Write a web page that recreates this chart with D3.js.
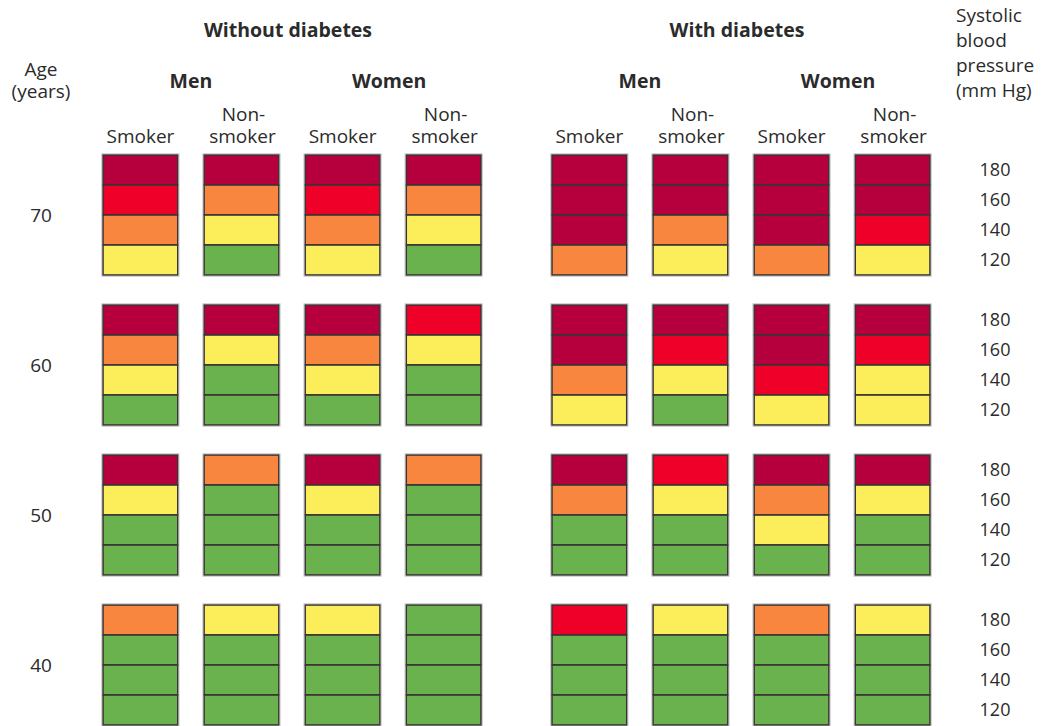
<!DOCTYPE html>
<html>
<head>
<meta charset="utf-8">
<script src="https://cdn.jsdelivr.net/npm/d3@7"></script>
<style>
  html, body { margin: 0; padding: 0; background: #fff; }
  svg { display: block; font-family: "Open Sans", "Noto Sans", sans-serif; }
</style>
</head>
<body>
<div id="chart"></div>
<script>
// Chart data
const ages = ["70", "60", "50", "40"];
const diabetesGroups = ["Without diabetes", "With diabetes"];
const sexes = ["Men", "Women"];
const smokingStatus = ["Smoker", "Non-smoker"];
const pressures = [180, 160, 140, 120];
const levelColors = ["#6ab24d", "#fcee5b", "#f9863f", "#ef0029", "#b5003d"];

// risk level per column (8 columns: without/with diabetes x men/women x smoker/non), top row = 180
const risk70 = [[4,3,2,1],[4,2,1,0],[4,3,2,1],[4,2,1,0],[4,4,4,2],[4,4,2,1],[4,4,4,2],[4,4,3,1]];
const risk60 = [[4,2,1,0],[4,1,0,0],[4,2,1,0],[3,1,0,0],[4,4,2,1],[4,3,1,0],[4,4,3,1],[4,3,1,1]];
const risk50 = [[4,1,0,0],[2,0,0,0],[4,1,0,0],[2,0,0,0],[4,2,0,0],[3,1,0,0],[4,2,1,0],[4,1,0,0]];
const risk40 = [[2,0,0,0],[1,0,0,0],[1,0,0,0],[0,0,0,0],[3,0,0,0],[1,0,0,0],[2,0,0,0],[1,0,0,0]];
const riskByAge = { "70": risk70, "60": risk60, "50": risk50, "40": risk40 };

const width = 1048;
const height = 726;

const svg = d3.select("#chart")
    .append("svg")
    .attr("width", width)
    .attr("height", height);

// Scales
const groupX = d3.scaleBand()
    .domain(diabetesGroups)
    .range([103, 930])
    .paddingInner(0.158);

const columns = [];
sexes.forEach(s => smokingStatus.forEach(k => columns.push(s + "|" + k)));

const colX = d3.scaleBand()
    .domain(columns)
    .range([0, groupX.bandwidth()])
    .paddingInner(0.26);

const ageY = d3.scaleBand()
    .domain(ages)
    .range([155, 725])
    .paddingInner(0.2);

const bpY = d3.scaleBand()
    .domain(pressures)
    .range([0, ageY.bandwidth()]);

const textColor = "#2b2b2b";

// Cells
ages.forEach(age => {
    const blocks = riskByAge[age];
    diabetesGroups.forEach((grp, gi) => {
        columns.forEach((col, ci) => {
            const levels = blocks[gi * 4 + ci];
            const x = groupX(grp) + colX(col);
            const g = svg.append("g")
                .attr("transform", `translate(${x},${ageY(age)})`);
            g.selectAll("rect.cell")
                .data(pressures)
                .enter().append("rect")
                .attr("class", "cell")
                .attr("x", 0)
                .attr("y", d => bpY(d))
                .attr("width", colX.bandwidth())
                .attr("height", bpY.bandwidth())
                .attr("fill", (d, i) => levelColors[levels[i]])
                .attr("stroke", "#3a3434")
                .attr("stroke-width", 1.6);
            // outer halo
            g.append("rect")
                .attr("x", -1.2)
                .attr("y", -1.2)
                .attr("width", colX.bandwidth() + 2.4)
                .attr("height", ageY.bandwidth() + 2.4)
                .attr("fill", "none")
                .attr("stroke", "#b8b8b8")
                .attr("stroke-width", 0.8);
        });
    });

    // age label
    svg.append("text")
        .attr("x", 41)
        .attr("y", ageY(age) + ageY.bandwidth() / 2)
        .attr("dy", "0.35em")
        .attr("text-anchor", "middle")
        .attr("font-size", "19px")
        .attr("fill", textColor)
        .text(age);

    // pressure labels
    pressures.forEach(p => {
        svg.append("text")
            .attr("x", 995)
            .attr("y", ageY(age) + bpY(p) + bpY.bandwidth() / 2)
            .attr("dy", "0.35em")
            .attr("text-anchor", "middle")
            .attr("font-size", "18px")
            .attr("fill", textColor)
            .text(p);
    });
});

// Headers
diabetesGroups.forEach(grp => {
    svg.append("text")
        .attr("x", groupX(grp) + groupX.bandwidth() / 2 - 4)
        .attr("y", 37)
        .attr("text-anchor", "middle")
        .attr("font-size", "19.5px")
        .attr("font-weight", "bold")
        .attr("fill", textColor)
        .text(grp);

    sexes.forEach((s, si) => {
        const first = colX(s + "|" + smokingStatus[0]);
        const last = colX(s + "|" + smokingStatus[1]) + colX.bandwidth();
        svg.append("text")
            .attr("x", groupX(grp) + (first + last) / 2 - (si === 1 ? 4 : 0))
            .attr("y", 88)
            .attr("text-anchor", "middle")
            .attr("font-size", "19.5px")
            .attr("font-weight", "bold")
            .attr("fill", textColor)
            .text(s);
    });

    columns.forEach(col => {
        const cx = groupX(grp) + colX(col) + colX.bandwidth() / 2;
        const status = col.split("|")[1];
        const t = svg.append("text")
            .attr("text-anchor", "middle")
            .attr("font-size", "19px")
            .attr("fill", textColor);
        if (status === "Smoker") {
            t.append("tspan").attr("x", cx).attr("y", 143).text("Smoker");
        } else {
            t.append("tspan").attr("x", cx + 2).attr("y", 121).text("Non-");
            t.append("tspan").attr("x", cx + 1).attr("y", 143).text("smoker");
        }
    });
});

// Age title
const ageTitle = svg.append("text")
    .attr("text-anchor", "middle")
    .attr("font-size", "19px")
    .attr("fill", textColor);
ageTitle.append("tspan").attr("x", 41).attr("y", 76).text("Age");
ageTitle.append("tspan").attr("x", 41).attr("y", 98).text("(years)");

// Systolic title
const bpTitle = svg.append("text")
    .attr("font-size", "19px")
    .attr("fill", textColor);
["Systolic", "blood", "pressure", "(mm Hg)"].forEach((line, i) => {
    bpTitle.append("tspan").attr("x", 956).attr("y", 22 + i * 25).text(line);
});
</script>
</body>
</html>
